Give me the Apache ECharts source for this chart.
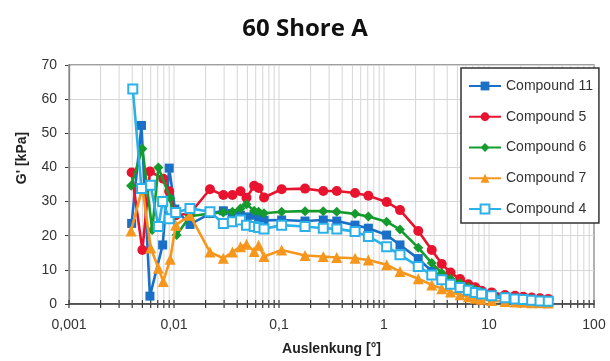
<!DOCTYPE html>
<html>
<head>
<meta charset="utf-8">
<script src="https://cdn.jsdelivr.net/npm/echarts@6/dist/echarts.min.js"></script>
<style>
  html, body { margin: 0; padding: 0; background: #ffffff; }
  #chart { width: 610px; height: 361px; }
</style>
</head>
<body>
<div id="chart"></div>
<script>
// Strain amplitude sweep: storage modulus G' versus deflection, 60 Shore A compounds

const seriesNames = ['Compound 11', 'Compound 5', 'Compound 6', 'Compound 7', 'Compound 4'];
const seriesColors = ['#1a6fc6', '#e8132e', '#159a2e', '#f7961c', '#2cb0e8'];

// Low-strain start of each sweep (noisy region), deflection in degrees
const strainStart11 = [0.00395, 0.0049, 0.0059, 0.0078, 0.009, 0.0102, 0.0142];
const gStart11 = [23.6, 52.3, 2.3, 17.3, 39.8, 27.8, 23.3];

const strainStart5 = [0.00395, 0.005, 0.0059, 0.0079, 0.009, 0.0104, 0.0142];
const gStart5 = [38.5, 15.8, 38.8, 36.7, 33.0, 26.0, 26.5];

const strainStart6 = [0.0039, 0.005, 0.0062, 0.0071, 0.0092, 0.0106, 0.0142];
const gStart6 = [34.6, 45.5, 21.7, 40.0, 31.0, 20.2, 25.7];

const strainStart7 = [0.0039, 0.005, 0.006, 0.0071, 0.0079, 0.0092, 0.0104, 0.0142];
const gStart7 = [21.4, 34.0, 16.4, 10.5, 6.6, 13.1, 23.1, 26.0];

const strainStart4 = [0.00405, 0.0049, 0.006, 0.0071, 0.0078, 0.009, 0.0104, 0.0142];
const gStart4 = [63.0, 33.8, 34.8, 22.7, 30.0, 25.0, 26.8, 28.0];

// Common deflection steps of the main sweep
const strainMain = [0.022, 0.0295, 0.036, 0.043, 0.049, 0.058, 0.064, 0.072, 0.106, 0.177,
  0.264, 0.355, 0.53, 0.71, 1.06, 1.42, 2.12, 2.85, 3.55, 4.3, 5.3, 6.35, 7.4, 8.5,
  10.6, 14.2, 17.7, 21.2, 25.5, 30.6, 36.7];

const gMain11 = [26.5, 27.3, 26.5, 26.0, 25.5, 26.0, 25.0, 24.5, 24.6, 24.3,
  24.6, 24.3, 23.1, 22.2, 20.2, 17.3, 13.3, 9.6, 7.6, 6.3, 5.2, 4.3, 3.7, 3.1,
  2.2, 1.6, 1.4, 1.2, 1.0, 0.9, 0.7];

const gMain5 = [33.6, 31.9, 31.9, 33.0, 31.1, 34.6, 34.0, 31.2, 33.6, 33.8,
  33.1, 33.1, 32.5, 31.7, 29.9, 27.5, 21.4, 15.8, 11.7, 9.2, 7.3, 5.8, 4.9, 3.9,
  3.4, 2.6, 2.4, 2.1, 1.9, 1.7, 1.5];

const gMain6 = [26.5, 26.8, 27.0, 28.0, 29.2, 27.3, 27.0, 26.6, 27.0, 27.2,
  27.2, 27.0, 26.4, 25.6, 24.1, 21.8, 16.5, 12.0, 9.1, 7.4, 6.1, 5.0, 4.2, 3.5,
  2.6, 2.0, 1.7, 1.5, 1.3, 1.2, 1.0];

const gMain7 = [15.2, 13.4, 15.2, 16.8, 17.5, 15.4, 17.2, 13.9, 15.8, 14.2,
  13.9, 13.6, 13.4, 12.9, 11.5, 9.5, 7.4, 5.6, 4.5, 3.5, 2.7, 2.1, 1.7, 1.4,
  1.0, 0.7, 0.6, 0.5, 0.4, 0.4, 0.3];

const gMain4 = [27.0, 23.6, 24.1, 24.6, 23.1, 22.7, 22.4, 22.0, 23.1, 22.7,
  22.2, 22.0, 21.2, 19.8, 16.8, 14.4, 11.0, 8.5, 7.1, 5.8, 4.8, 4.0, 3.4, 2.9,
  2.4, 1.8, 1.5, 1.3, 1.1, 0.9, 0.8];

// Axis ticks
const xTickLabels = ['0,001', '0,01', '0,1', '1', '10', '100'];
const yTicks = [0, 10, 20, 30, 40, 50, 60, 70];

function zip(xs, ys) {
  return xs.map(function (x, i) { return [x, ys[i]]; });
}

const seriesData = [
  zip(strainStart11.concat(strainMain), gStart11.concat(gMain11)),
  zip(strainStart5.concat(strainMain), gStart5.concat(gMain5)),
  zip(strainStart6.concat(strainMain), gStart6.concat(gMain6)),
  zip(strainStart7.concat(strainMain), gStart7.concat(gMain7)),
  zip(strainStart4.concat(strainMain), gStart4.concat(gMain4))
];

const markerShapes = ['rect', 'circle', 'diamond', 'triangle', 'emptyRect'];
const markerSizes = [9, 10, 10, 11, 9];

// Log-scale guide positions: 1..9 times every decade from 0.001 to 100
const guideValues = [];
for (let e = -3; e <= 2; e++) {
  for (let m = 1; m <= 9; m++) {
    const v = m * Math.pow(10, e);
    if (v <= 100.0001) guideValues.push([Number(v.toPrecision(3)), 0]);
  }
}

const chart = echarts.init(document.getElementById('chart'), null, { renderer: 'canvas' });

const yMin = yTicks[0];
const yMax = yTicks[yTicks.length - 1];

const lineSeries = seriesNames.map(function (name, i) {
  return {
    name: name,
    type: 'line',
    data: seriesData[i],
    symbol: markerShapes[i],
    symbolSize: markerSizes[i],
    showSymbol: true,
    showAllSymbol: true,
    color: seriesColors[i],
    lineStyle: { width: 2.6, color: seriesColors[i] },
    itemStyle: markerShapes[i] === 'emptyRect'
      ? { color: seriesColors[i], borderColor: seriesColors[i], borderWidth: 2 }
      : { color: seriesColors[i] },
    z: 3 + i,
    emphasis: { disabled: true }
  };
});

const guideSeries = {
  name: 'guides',
  type: 'custom',
  data: guideValues,
  silent: true,
  clip: false,
  z: 1,
  renderItem: function (params, api) {
    const x = api.value(0);
    const bottom = api.coord([x, yMin]);
    const top = api.coord([x, yMax]);
    return {
      type: 'group',
      children: [
        {
          type: 'line',
          shape: { x1: bottom[0], y1: bottom[1], x2: top[0], y2: top[1] },
          style: { stroke: '#d6d6d6', lineWidth: 1 }
        },
        {
          type: 'line',
          shape: { x1: bottom[0], y1: bottom[1] - 4, x2: bottom[0], y2: bottom[1] + 4 },
          style: { stroke: '#3a3a3a', lineWidth: 1.2 }
        }
      ]
    };
  }
};

chart.setOption({
  animation: false,
  backgroundColor: '#ffffff',
  title: {
    text: '60 Shore A',
    left: 'center',
    top: 12,
    textStyle: {
      fontFamily: 'Open Sans',
      fontWeight: 'bold',
      fontSize: 24,
      color: '#111111'
    }
  },
  grid: {
    left: 69,
    right: 16,
    top: 65,
    bottom: 56,
    show: true,
    borderColor: '#404040',
    borderWidth: 1.2,
    backgroundColor: 'transparent'
  },
  legend: {
    orient: 'vertical',
    left: 461,
    top: 68,
    data: seriesNames,
    itemWidth: 32,
    itemHeight: 11,
    itemGap: 16.75,
    padding: [11, 6, 7, 7],
    backgroundColor: '#ffffff',
    borderColor: '#333333',
    borderWidth: 1.5,
    borderRadius: 0,
    textStyle: {
      fontFamily: 'Liberation Sans',
      fontSize: 14,
      color: '#333333',
      padding: [0, 0, 0, 0]
    },
    selectedMode: false
  },
  xAxis: {
    type: 'log',
    logBase: 10,
    min: 0.001,
    max: 100,
    name: 'Auslenkung [°]',
    nameLocation: 'middle',
    nameGap: 38,
    nameTextStyle: {
      fontFamily: 'Liberation Sans',
      fontWeight: 'bold',
      fontSize: 14,
      color: '#222222'
    },
    axisLine: { show: true, onZero: false, lineStyle: { color: '#3a3a3a', width: 1.5 } },
    axisTick: { show: false },
    splitLine: { show: false },
    axisLabel: {
      margin: 14,
      fontFamily: 'Liberation Sans',
      fontSize: 14,
      color: '#333333',
      formatter: function (value) {
        const k = Math.round(Math.log10(value)) + 3;
        return xTickLabels[k] !== undefined ? xTickLabels[k] : '';
      }
    }
  },
  yAxis: {
    type: 'value',
    min: yMin,
    max: yMax,
    interval: 10,
    axisLine: { show: true, lineStyle: { color: '#3a3a3a', width: 1.2 } },
    axisTick: { show: true, length: 4, lineStyle: { color: '#3a3a3a' } },
    splitLine: { show: true, lineStyle: { color: '#d6d6d6', width: 1 } },
    axisLabel: {
      margin: 12,
      fontFamily: 'Liberation Sans',
      fontSize: 14,
      color: '#333333'
    }
  },
  graphic: [
    {
      type: 'text',
      x: 22,
      y: 158,
      rotation: Math.PI / 2,
      style: {
        text: "G' [kPa]",
        fontFamily: 'Liberation Sans',
        fontWeight: 'bold',
        fontSize: 14,
        fill: '#222222',
        align: 'center',
        verticalAlign: 'middle'
      }
    }
  ],
  series: [guideSeries].concat(lineSeries)
});
</script>
</body>
</html>
